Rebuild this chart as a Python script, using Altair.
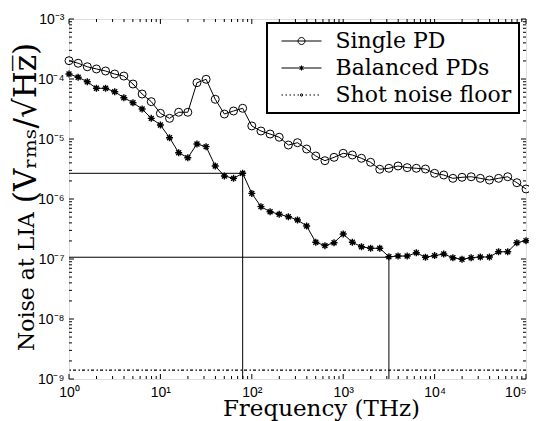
import altair as alt
import pandas as pd

# ---------------- data ----------------
freq = [1, 1.259, 1.585, 1.995, 2.512, 3.162, 3.981, 5.012, 6.31, 7.943,
        10, 12.59, 15.85, 19.95, 25.12, 31.62, 39.81, 50.12, 63.1, 79.43,
        100, 125.9, 158.5, 199.5, 251.2, 316.2, 398.1, 501.2, 631.0, 794.3,
        1000, 1259, 1585, 1995, 2512, 3162, 3981, 5012, 6310, 7943,
        10000, 12590, 15850, 19950, 25120, 31620, 39810, 50120, 63100, 79430,
        100000]
single_pd = [2.02e-4, 1.83e-4, 1.60e-4, 1.47e-4, 1.36e-4, 1.21e-4, 1.12e-4, 8.25e-5, 5.62e-5, 4.19e-5,
             2.68e-5, 2.21e-5, 2.79e-5, 2.79e-5, 8.68e-5, 9.89e-5, 4.59e-5, 2.61e-5, 2.93e-5, 3.25e-5,
             1.65e-5, 1.36e-5, 1.21e-5, 1.07e-5, 7.94e-6, 8.68e-6, 6.81e-6, 5.21e-6, 4.35e-6, 4.95e-6,
             5.78e-6, 5.41e-6, 4.77e-6, 4.09e-6, 3.13e-6, 3.25e-6, 3.55e-6, 3.33e-6, 3.25e-6, 3.16e-6,
             2.68e-6, 2.51e-6, 2.21e-6, 2.30e-6, 2.35e-6, 2.21e-6, 2.07e-6, 2.21e-6, 2.35e-6, 1.87e-6,
             1.47e-6]
balanced_pds = [1.21e-4, 1.07e-4, 9.02e-5, 7.00e-5, 7.00e-5, 6.14e-5, 4.88e-5, 4.03e-5, 3.16e-5, 2.21e-5,
                1.71e-5, 1.05e-5, 5.91e-6, 4.88e-6, 8.25e-6, 7.45e-6, 3.55e-6, 2.42e-6, 2.21e-6, 2.68e-6,
                1.24e-6, 7.45e-7, 6.14e-7, 5.56e-7, 5.07e-7, 4.47e-7, 3.55e-7, 1.90e-7, 1.67e-7, 1.87e-7,
                2.61e-7, 1.90e-7, 1.60e-7, 1.51e-7, 1.51e-7, 1.09e-7, 1.12e-7, 1.12e-7, 1.27e-7, 1.07e-7,
                1.14e-7, 1.21e-7, 1.05e-7, 9.89e-8, 1.05e-7, 1.08e-7, 1.08e-7, 1.32e-7, 1.32e-7, 1.87e-7,
                2.02e-7]
shot_noise_floor = 1.41e-9

guide_freq = [79.43, 3162]
guide_level = [2.68e-6, 1.07e-7]

series_names = ["Single PD", "Balanced PDs", "Shot noise floor"]

x_major = [1, 10, 100, 1000, 10000, 100000]
x_labels = ["10\u2070", "10\u00b9", "10\u00b2", "10\u00b3", "10\u2074", "10\u2075"]
y_major = [1e-9, 1e-8, 1e-7, 1e-6, 1e-5, 1e-4, 1e-3]
y_labels = ["10\u207b\u2079", "10\u207b\u2078", "10\u207b\u2077", "10\u207b\u2076",
            "10\u207b\u2075", "10\u207b\u2074", "10\u207b\u00b3"]

x_title = "Frequency (THz)"
y_title_main = "Noise at LIA"
y_title_unit = "(V\u1d63\u2098\u209b/\u221aH\u0305z\u0305)"

# ---------------- layout / style ----------------
W, H = 457, 360
MAJ, MIN = 5, 3
SERIF = "DejaVu Serif"

x_minor = [m * 10.0 ** e for e in range(0, 5) for m in range(2, 10)]
y_minor = [m * 10.0 ** e for e in range(-9, -3) for m in range(2, 10)]

xs = alt.Scale(type="log", domain=[1, 100000], nice=False)
ys = alt.Scale(type="log", domain=[1e-9, 1e-3], nice=False)

x_expr = "[" + ",".join("'%s'" % s for s in x_labels) + "][round(log(datum.value)/LN10)]"
y_expr = "[" + ",".join("'%s'" % s for s in y_labels) + "][round(log(datum.value)/LN10)+9]"

x_axis = alt.Axis(values=x_major, labelExpr=x_expr, labelFont="Liberation Sans", labelFontSize=14,
                  labelColor="black", labelPadding=6, ticks=False, domain=False, grid=False,
                  title=x_title, titleFont=SERIF, titleFontSize=23, titleFontWeight="normal",
                  titleColor="black", titleX=252, titleY=36, titleBaseline="alphabetic",
                  titleAlign="center", labelFlush=False,
                  labelAlign=alt.condition("datum.value >= 100000", alt.value("right"),
                                           alt.value("center")))
y_axis = alt.Axis(values=y_major, labelExpr=y_expr, labelFont="Liberation Sans", labelFontSize=14,
                  labelColor="black", labelPadding=5, ticks=False, domain=False, grid=False,
                  title=y_title_main, titleFont=SERIF, titleFontSize=22,
                  titleFontWeight="normal", titleColor="black", titleX=-43, titleY=262,
                  titleAngle=270, titleBaseline="middle", titleAlign="center", labelFlush=False)

df_single = pd.DataFrame({"f": freq, "v": single_pd, "series": series_names[0]})
df_bal = pd.DataFrame({"f": freq, "v": balanced_pds, "series": series_names[1]})
df_all = pd.concat([df_single, df_bal], ignore_index=True)

lines = alt.Chart(df_all).mark_line(color="black", strokeWidth=1).encode(
    x=alt.X("f:Q", scale=xs, axis=x_axis),
    y=alt.Y("v:Q", scale=ys, axis=y_axis),
    detail="series:N",
)

ASTER = "M-1,0L1,0M0,-1L0,1M-0.7,-0.7L0.7,0.7M-0.7,0.7L0.7,-0.7"

circles = alt.Chart(df_single).mark_point(shape="circle", size=64, filled=False, color="black",
                                          strokeWidth=1, opacity=1).encode(x="f:Q", y="v:Q")
stars = alt.Chart(df_bal).mark_point(shape=ASTER, size=49, filled=False, color="black",
                                     strokeWidth=1.4, opacity=1).encode(x="f:Q", y="v:Q")

floor = alt.Chart(pd.DataFrame({"v": [shot_noise_floor]})).mark_rule(
    color="black", strokeWidth=1.3, strokeDash=[3, 2, 1.5, 2.5]).encode(y="v:Q")

df_guides = pd.DataFrame({"f": guide_freq, "v": guide_level})
guide_h = alt.Chart(df_guides).mark_rule(color="black", strokeWidth=1).encode(
    x="f:Q", x2=alt.value(0), y="v:Q")
guide_v = alt.Chart(df_guides).mark_rule(color="black", strokeWidth=1).encode(
    x="f:Q", y="v:Q", y2=alt.value(H))


def xticks(vals, ln):
    d = pd.DataFrame({"f": vals})
    b = alt.Chart(d).mark_rule(color="black", strokeWidth=1).encode(
        x="f:Q", y=alt.value(H), y2=alt.value(H - ln))
    t = alt.Chart(d).mark_rule(color="black", strokeWidth=1).encode(
        x="f:Q", y=alt.value(0), y2=alt.value(ln))
    return [b, t]


def yticks(vals, ln):
    d = pd.DataFrame({"v": vals})
    l = alt.Chart(d).mark_rule(color="black", strokeWidth=1).encode(
        y="v:Q", x=alt.value(0), x2=alt.value(ln))
    r = alt.Chart(d).mark_rule(color="black", strokeWidth=1).encode(
        y="v:Q", x=alt.value(W), x2=alt.value(W - ln))
    return [l, r]


ticks = xticks(x_major, MAJ) + xticks(x_minor, MIN) + yticks(y_major, MAJ) + yticks(y_minor, MIN)

# legend symbols: line + marker drawn as one path (units of 10 px)
circ = "M0.35,0A0.35,0.35,0,1,1,-0.35,0A0.35,0.35,0,1,1,0.35,0"
dot = "M0.12,0A0.12,0.12,0,1,1,-0.12,0A0.12,0.12,0,1,1,0.12,0"
leg_single = "M-2,0L2,0" + circ
leg_bal = "M-2,0L2,0M-0.2,-0.2L0.2,0.2M-0.2,0.2L0.2,-0.2M0,-0.25L0,0.25" + dot
dots = "".join("M%.2f,0L%.2f,0" % (-2 + 0.4 * i, -2 + 0.4 * i + 0.15) for i in range(10))
leg_shot = dots + dot

df_leg = pd.DataFrame({"series": series_names, "f": [None] * 3, "v": [None] * 3})
legend_layer = alt.Chart(df_leg).mark_point(filled=False, color="black", opacity=1, strokeWidth=1).encode(
    x="f:Q", y="v:Q",
    shape=alt.Shape("series:N", sort=series_names,
                    scale=alt.Scale(domain=series_names, range=[leg_single, leg_bal, leg_shot]),
                    legend=alt.Legend(orient="none", legendX=198, legendY=4, title=None,
                                      padding=7, rowPadding=5, symbolSize=400,
                                      symbolStrokeWidth=1, symbolStrokeColor="black",
                                      symbolFillColor="transparent", symbolOffset=16.5,
                                      labelOffset=23, labelFont=SERIF, labelFontSize=22,
                                      labelColor="black", labelLimit=400,
                                      strokeColor="black", fillColor="white")),
)

unit_text = alt.Chart(pd.DataFrame({"t": [y_title_unit]})).mark_text(
    angle=270, font=SERIF, fontSize=31, align="center", baseline="middle", color="black"
).encode(x=alt.value(-42), y=alt.value(104), text="t:N")

chart = alt.layer(
    *ticks, floor, guide_h, guide_v, lines, circles, stars, legend_layer, unit_text
).properties(
    width=W, height=H,
    autosize=alt.AutoSizeParams(type="none"),
    padding={"left": 61, "top": 11, "right": 3, "bottom": 42},
).configure_view(stroke="black", strokeWidth=2).configure(background="white").configure_legend(
    strokeWidth=2, labelFont=SERIF)

chart.save("out.html", embed_options={"renderer": "svg", "actions": False})
